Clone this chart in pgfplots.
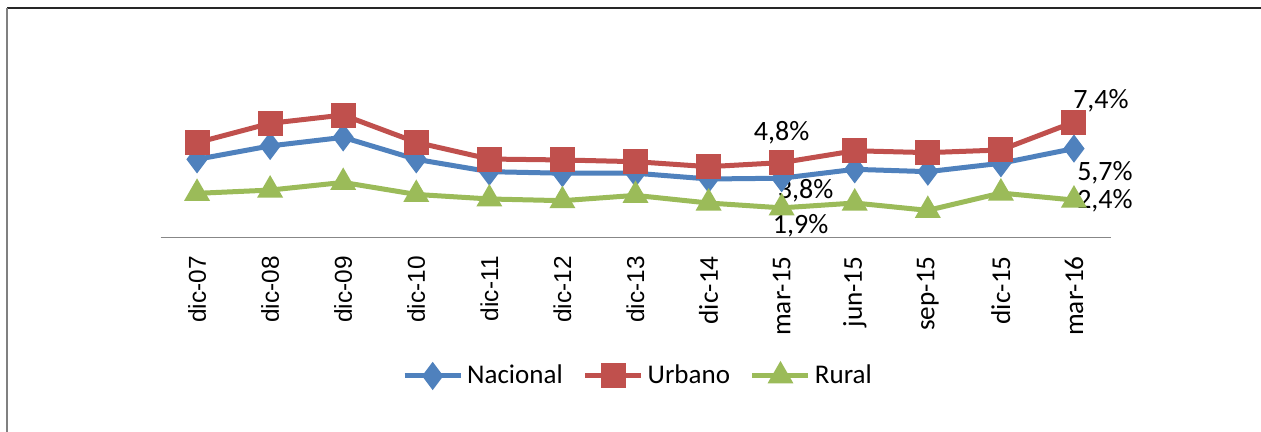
\documentclass[border=0pt]{standalone}
\usepackage{fontspec}
\setmainfont{Carlito}
\newfontfamily\arialf{Liberation Sans}
\usepackage{pgfplots}
\pgfplotsset{compat=1.18}
\definecolor{cNac}{HTML}{4F81BD}
\definecolor{cUrb}{HTML}{C0504D}
\definecolor{cRur}{HTML}{9BBB59}
\newcommand{\lblfont}{\fontsize{14bp}{16bp}\selectfont}
\begin{document}
\begin{tikzpicture}
\path[use as bounding box] (0,0) rectangle (630.5bp,216bp);
\fill[white] (0,0) rectangle (630.5bp,216bp);
\draw[color=black!85, line width=0.7bp] (3.5bp,212bp) -- (630.5bp,212bp);
\draw[color=black!50, line width=0.75bp] (3.5bp,212bp) -- (3.5bp,0);
\begin{axis}[
  at={(80.25bp,97.25bp)}, anchor=south west,
  scale only axis, width=475bp, height=70.2bp,
  xmin=-0.5, xmax=12.5, ymin=0, ymax=9,
  clip=false,
  axis x line=bottom, axis y line=none,
  x axis line style={-, color=black!47, line width=0.7bp},
  xtick={0,...,12}, major tick length=0pt,
  xticklabels={{\arialf\fontsize{12.2bp}{14bp}\selectfont dic-07},{\arialf\fontsize{12.2bp}{14bp}\selectfont dic-08},{\arialf\fontsize{12.2bp}{14bp}\selectfont dic-09},{\arialf\fontsize{12.2bp}{14bp}\selectfont dic-10},{\arialf\fontsize{12.2bp}{14bp}\selectfont dic-11},{\arialf\fontsize{12.2bp}{14bp}\selectfont dic-12},{\arialf\fontsize{12.2bp}{14bp}\selectfont dic-13},dic-14,mar-15,jun-15,sep-15,dic-15,mar-16},
  xticklabel style={rotate=90, anchor=east, inner sep=0pt, font=\fontsize{13.6bp}{15bp}\selectfont},
  xticklabel shift=9.25bp,
  legend image code/.code={\draw[mark repeat=2,mark phase=2,#1] plot coordinates {(0bp,0bp)(14bp,0bp)(28bp,0bp)};},
  legend columns=3,
  legend style={draw=none, fill=none, at={(0.5037,-0.986)}, anchor=center,
    font=\fontsize{13.5bp}{15bp}\selectfont,
    /tikz/every odd column/.append style={column sep=0bp},
    /tikz/every even column/.append style={column sep=8bp},
    nodes={inner sep=2bp}},
  every axis plot/.append style={line width=2.5bp, mark size=5bp},
]
\addplot[color=cNac, mark=diamond*, mark options={solid, fill=cNac, draw=none}] coordinates {
 (0,5.01) (1,5.87) (2,6.42) (3,5.01) (4,4.22) (5,4.12) (6,4.12) (7,3.75) (8,3.8) (9,4.37) (10,4.22) (11,4.76) (12,5.7)};
\addlegendentry{Nacional}
\addplot[color=cUrb, mark=square*, mark options={solid, fill=cUrb, draw=none}] coordinates {
 (0,6.08) (1,7.32) (2,7.85) (3,6.10) (4,5.03) (5,4.97) (6,4.86) (7,4.54) (8,4.8) (9,5.56) (10,5.44) (11,5.61) (12,7.4)};
\addlegendentry{Urbano}
\addplot[color=cRur, mark=triangle*, mark options={solid, fill=cRur, draw=none}] coordinates {
 (0,2.83) (1,3.04) (2,3.53) (3,2.76) (4,2.47) (5,2.36) (6,2.70) (7,2.21) (8,1.9) (9,2.21) (10,1.74) (11,2.85) (12,2.4)};
\addlegendentry{Rural}
\node[font=\lblfont, yshift=15bp] at (axis cs:8,4.8) {4,8\%};
\node[font=\lblfont, xshift=12bp, yshift=-6.5bp] at (axis cs:8,3.8) {3,8\%};
\node[font=\lblfont, xshift=9.5bp, yshift=-9bp] at (axis cs:8,1.9) {1,9\%};
\node[font=\lblfont, xshift=13.5bp, yshift=10.5bp] at (axis cs:12,7.4) {7,4\%};
\node[font=\lblfont, xshift=15.5bp, yshift=-12.3bp] at (axis cs:12,5.7) {5,7\%};
\node[font=\lblfont, xshift=15.5bp, yshift=-0.5bp] at (axis cs:12,2.4) {2,4\%};
\end{axis}
\end{tikzpicture}
\end{document}
